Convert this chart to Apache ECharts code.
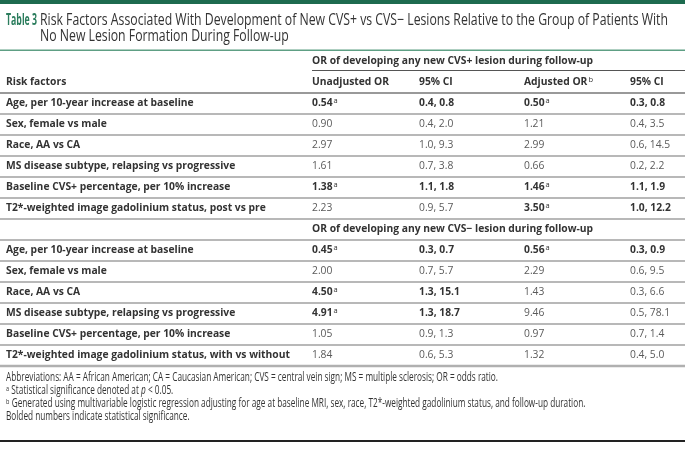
<!DOCTYPE html>
<html><head><meta charset="utf-8">
<script src="https://cdn.jsdelivr.net/npm/echarts@6/dist/echarts.min.js"></script>
<style>html,body{margin:0;padding:0;background:#fff}#c{width:685px;height:469px}</style>
</head><body><div id="c"></div>
<script>
// ---- data ----
const tableLabel = 'Table 3';
const titleLines = ['Risk Factors Associated With Development of New CVS+ vs CVS\u2212 Lesions Relative to the Group of Patients With',
                    'No New Lesion Formation During Follow-up'];
const sectionTitles = ['OR of developing any new CVS+ lesion during follow-up',
                       'OR of developing any new CVS\u2212 lesion during follow-up'];
const columnHeaders = ['Risk factors', 'Unadjusted OR', '95% CI', 'Adjusted OR', '95% CI'];
const headerSup = ['', '', '', 'b', ''];
const riskFactorsPos = ['Age, per 10-year increase at baseline', 'Sex, female vs male', 'Race, AA vs CA',
  'MS disease subtype, relapsing vs progressive', 'Baseline CVS+ percentage, per 10% increase',
  'T2*-weighted image gadolinium status, post vs pre'];
const posUnadjOR = ['0.54', '0.90', '2.97', '1.61', '1.38', '2.23'];
const posUnadjCI = ['0.4, 0.8', '0.4, 2.0', '1.0, 9.3', '0.7, 3.8', '1.1, 1.8', '0.9, 5.7'];
const posUnadjSig = [1, 0, 0, 0, 1, 0];
const posAdjOR = ['0.50', '1.21', '2.99', '0.66', '1.46', '3.50'];
const posAdjCI = ['0.3, 0.8', '0.4, 3.5', '0.6, 14.5', '0.2, 2.2', '1.1, 1.9', '1.0, 12.2'];
const posAdjSig = [1, 0, 0, 0, 1, 1];
const riskFactorsNeg = ['Age, per 10-year increase at baseline', 'Sex, female vs male', 'Race, AA vs CA',
  'MS disease subtype, relapsing vs progressive', 'Baseline CVS+ percentage, per 10% increase',
  'T2*-weighted image gadolinium status, with vs without'];
const negUnadjOR = ['0.45', '2.00', '4.50', '4.91', '1.05', '1.84'];
const negUnadjCI = ['0.3, 0.7', '0.7, 5.7', '1.3, 15.1', '1.3, 18.7', '0.9, 1.3', '0.6, 5.3'];
const negUnadjSig = [1, 0, 1, 1, 0, 0];
const negAdjOR = ['0.56', '2.29', '1.43', '9.46', '0.97', '1.32'];
const negAdjCI = ['0.3, 0.9', '0.6, 9.5', '0.3, 6.6', '0.5, 78.1', '0.7, 1.4', '0.4, 5.0'];
const negAdjSig = [1, 0, 0, 0, 0, 0];
const footnotes = [
  'Abbreviations: AA = African American; CA = Caucasian American; CVS = central vein sign; MS = multiple sclerosis; OR = odds ratio.',
  'Statistical significance denoted at ',
  'Generated using multivariable logistic regression adjusting for age at baseline MRI, sex, race, T2*-weighted gadolinium status, and follow-up duration.',
  'Bolded numbers indicate statistical significance.'
];

// ---- layout / style ----
const FONT = '"Open Sans", sans-serif';
const colX = [6, 312, 419, 524, 630];
const BODY = 10.3;
const DARK = '#333';
const GREY = '#5a5a5a';

const rows = [];
rows.push({type: 'section', text: sectionTitles[0], lineFrom: colX[1], first: true});
rows.push({type: 'header'});
riskFactorsPos.forEach((f, i) => rows.push({type: 'data', label: f,
  vals: [posUnadjOR[i], posUnadjCI[i], posAdjOR[i], posAdjCI[i]], sig: [posUnadjSig[i], posAdjSig[i]]}));
rows.push({type: 'section', text: sectionTitles[1], lineFrom: 0});
riskFactorsNeg.forEach((f, i) => rows.push({type: 'data', label: f,
  vals: [negUnadjOR[i], negUnadjCI[i], negAdjOR[i], negAdjCI[i]], sig: [negUnadjSig[i], negAdjSig[i]]}));

const rich = {
  b: {fontFamily: FONT, fontSize: BODY, fontWeight: 'bold', fill: DARK, color: DARK},
  n: {fontFamily: FONT, fontSize: BODY, fontWeight: 'normal', fill: GREY, color: GREY},
  sup: {fontFamily: FONT, fontSize: 7.5, fontWeight: 'normal', fill: DARK, color: DARK, padding: [0, 0, 5, 1]}
};

function txt(x, y, text) {
  return {type: 'text', x: x, y: y, style: {text: text, rich: rich, verticalAlign: 'middle', align: 'left'}};
}

function renderItem(params, api) {
  const i = params.dataIndex;
  const r = rows[i];
  const cy = api.coord([0, i])[1];
  const h = api.size([0, 1])[1];
  const xAt = v => api.coord([v, i])[0];
  const bottom = Math.round(cy + h / 2);
  const ch = [];
  const isLast = i === rows.length - 1;
  if (r.type === 'section') {
    ch.push(txt(xAt(colX[1]), cy, '{b|' + r.text + '}'));
    if (r.first) {
      ch.push({type: 'line', shape: {x1: xAt(colX[1]), y1: bottom - 1.5, x2: xAt(685), y2: bottom - 1.5},
        style: {stroke: '#555', lineWidth: 1}});
    } else {
      ch.push({type: 'line', shape: {x1: xAt(r.lineFrom), y1: bottom, x2: xAt(685), y2: bottom},
        style: {stroke: '#a0a0a0', lineWidth: 1.5}});
    }
  } else if (r.type === 'header') {
    columnHeaders.forEach((t, k) => {
      ch.push(txt(xAt(colX[k]), cy, '{b|' + t + '}' + (headerSup[k] ? '{sup|' + headerSup[k] + '}' : '')));
    });
    ch.push({type: 'line', shape: {x1: xAt(0), y1: bottom, x2: xAt(685), y2: bottom},
      style: {stroke: '#999', lineWidth: 2}});
  } else {
    ch.push(txt(xAt(colX[0]), cy, '{b|' + r.label + '}'));
    r.vals.forEach((v, k) => {
      const s = r.sig[Math.floor(k / 2)];
      const isOR = k % 2 === 0;
      const t = s ? ('{b|' + v + '}' + (isOR ? '{sup|a}' : '')) : ('{n|' + v + '}');
      ch.push(txt(xAt(colX[k + 1]), cy, t));
    });
    ch.push({type: 'line', shape: {x1: xAt(0), y1: bottom, x2: xAt(685), y2: bottom},
      style: {stroke: isLast ? '#b0b0b0' : '#a0a0a0', lineWidth: isLast ? 2.5 : 1.5}});
  }
  return {type: 'group', children: ch};
}

// measure helper for condensed text
const mctx = document.createElement('canvas').getContext('2d');
function measure(text, font) { mctx.font = font; return mctx.measureText(text).width; }
const TFS = 16;
const titleScale = 628 / measure(titleLines[0], TFS + 'px "Open Sans"');
const labelScale = 31 / measure(tableLabel, 'bold ' + TFS + 'px "Open Sans"');
const FFS = 12;
const footScale = 492 / measure(footnotes[0], FFS + 'px "Open Sans"');

const chart = echarts.init(document.getElementById('c'), null, {renderer: 'canvas'});
chart.setOption({
  animation: false,
  backgroundColor: '#fff',
  grid: {left: 0, right: 0, top: 51, height: 315},
  xAxis: {type: 'value', min: 0, max: 685, show: false},
  yAxis: {type: 'category', inverse: true, show: false, data: rows.map((r, i) => 'r' + i)},
  series: [{
    type: 'custom', renderItem: renderItem, clip: false,
    data: rows.map((r, i) => [0, i]), encode: {x: 0, y: 1}
  }],
  graphic: [
    {type: 'rect', shape: {x: 0, y: 0, width: 685, height: 4}, style: {fill: '#1d6b4f'}},
    {type: 'text', x: 6, y: 20, scaleX: labelScale, style: {text: tableLabel, fontFamily: FONT, fontSize: TFS, fontWeight: 'bold', fill: '#2b7d5d', verticalAlign: 'middle'}},
    {type: 'text', x: 40, y: 20, scaleX: titleScale, style: {text: titleLines[0], fontFamily: FONT, fontSize: TFS, fill: '#333', verticalAlign: 'middle'}},
    {type: 'text', x: 40, y: 36, scaleX: titleScale, style: {text: titleLines[1], fontFamily: FONT, fontSize: TFS, fill: '#333', verticalAlign: 'middle'}},
    {type: 'rect', shape: {x: 0, y: 49.5, width: 685, height: 1.5}, style: {fill: '#5e9f84'}},
    {type: 'text', x: 6, y: 378, scaleX: footScale, style: {text: footnotes[0], fontFamily: FONT, fontSize: FFS, fill: '#333', verticalAlign: 'middle'}},
    {type: 'text', x: 6, y: 391, scaleX: footScale, style: {
      text: '{s|a} {t|' + footnotes[1] + '}{i|p}{t| < 0.05.}', verticalAlign: 'middle',
      rich: {s: {fontFamily: FONT, fontSize: 8, fill: '#333', padding: [0, 0, 5, 0]},
             t: {fontFamily: FONT, fontSize: FFS, fill: '#333'},
             i: {fontFamily: FONT, fontSize: FFS, fontStyle: 'italic', fill: '#333'}}}},
    {type: 'text', x: 6, y: 404, scaleX: footScale, style: {
      text: '{s|b} {t|' + footnotes[2] + '}', verticalAlign: 'middle',
      rich: {s: {fontFamily: FONT, fontSize: 8, fill: '#333', padding: [0, 0, 5, 0]},
             t: {fontFamily: FONT, fontSize: FFS, fill: '#333'}}}},
    {type: 'text', x: 6, y: 417, scaleX: footScale, style: {text: footnotes[3], fontFamily: FONT, fontSize: FFS, fill: '#333', verticalAlign: 'middle'}},
    {type: 'rect', shape: {x: 0, y: 440, width: 685, height: 2}, style: {fill: '#222'}}
  ]
});
</script></body></html>
